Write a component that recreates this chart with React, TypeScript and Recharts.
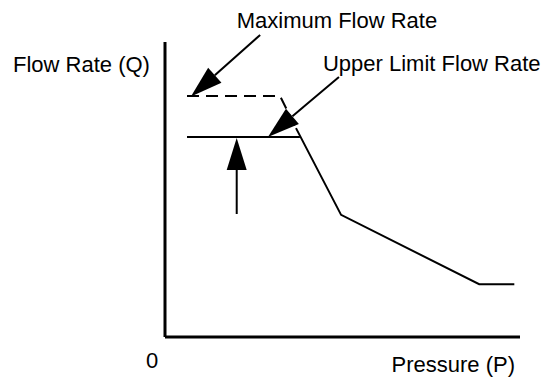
import {
  Label,
  Line,
  LineChart,
  ReferenceDot,
  ReferenceLine,
  XAxis,
  YAxis,
} from 'recharts'

// pressure (P) on x, flow rate (Q) on y, both on a 0..100 scale
const maxFlowRate = [
  { p: 6.2, q: 81.7 },
  { p: 32.4, q: 81.7 },
  { p: 36.9, q: 70.8 },
]

const upperLimitFlowRate = [
  { p: 6.2, q: 67.8 },
  { p: 38.0, q: 67.8 },
]

const flowCurve = [
  { p: 36.9, q: 70.8 },
  { p: 49.6, q: 41.4 },
  { p: 88.5, q: 17.9 },
  { p: 98.4, q: 17.9 },
]

// arrows: [tail, tip]
const arrows = [
  [{ x: 26.8, y: 102.4 }, { x: 7.3, y: 81.5 }],
  [{ x: 49.0, y: 88.1 }, { x: 29.0, y: 67.8 }],
  [{ x: 20.2, y: 41.7 }, { x: 20.2, y: 67.5 }],
]

const annotations = [
  { p: 20.2, q: 104.7, text: 'Maximum Flow Rate' },
  { p: 44.5, q: 90.2, text: 'Upper Limit Flow Rate' },
]

const xTicks = [0]

const FONT = '"Liberation Sans", Arial, sans-serif'
const INK = '#000'

function ArrowShape(props: any) {
  const { x1, y1, x2, y2 } = props
  const dx = x2 - x1
  const dy = y2 - y1
  const len = Math.hypot(dx, dy) || 1
  const ux = dx / len
  const uy = dy / len
  const head = 32
  const half = 10
  const bx = x2 - ux * head
  const by = y2 - uy * head
  const pts = [
    `${x2},${y2}`,
    `${bx - uy * half},${by + ux * half}`,
    `${bx + uy * half},${by - ux * half}`,
  ].join(' ')
  return (
    <g>
      <line x1={x1} y1={y1} x2={bx} y2={by} stroke={INK} strokeWidth={2} />
      <polygon points={pts} fill={INK} />
    </g>
  )
}

function App() {
  return (
    <div
      style={{
        position: 'absolute',
        left: 0,
        top: 0,
        width: 556,
        height: 378,
        background: '#fff',
      }}
    >
      <LineChart
        width={556}
        height={378}
        margin={{ top: 42, right: 36, bottom: 40, left: 164 }}
      >
        <XAxis
          type="number"
          dataKey="p"
          domain={[0, 100]}
          ticks={xTicks}
          height={1}
          tickSize={0}
          tickMargin={0}
          tickLine={false}
          axisLine={{ stroke: INK, strokeWidth: 3 }}
          tick={({ x, y, payload }: any) => (
            <text
              x={x - 13}
              y={y + 31}
              textAnchor="middle"
              fontFamily={FONT}
              fontSize={22}
              fill={INK}
            >
              {payload.value}
            </text>
          )}
        >
          <Label
            content={({ viewBox }: any) => (
              <text
                x={viewBox.x + viewBox.width - 5}
                y={viewBox.y + 35}
                textAnchor="end"
                fontFamily={FONT}
                fontSize={22}
                fill={INK}
              >
                Pressure (P)
              </text>
            )}
          />
        </XAxis>
        <YAxis
          type="number"
          dataKey="q"
          domain={[0, 100]}
          width={1}
          tick={false}
          tickLine={false}
          axisLine={{ stroke: INK, strokeWidth: 3 }}
        >
          <Label
            content={({ viewBox }: any) => (
              <text
                x={viewBox.x + viewBox.width - 152}
                y={viewBox.y + 30}
                textAnchor="start"
                fontFamily={FONT}
                fontSize={22}
                fill={INK}
              >
                Flow Rate (Q)
              </text>
            )}
          />
        </YAxis>

        <Line
          data={maxFlowRate}
          dataKey="q"
          stroke={INK}
          strokeWidth={2}
          strokeDasharray="12 7"
          dot={false}
          isAnimationActive={false}
        />
        <Line
          data={upperLimitFlowRate}
          dataKey="q"
          stroke={INK}
          strokeWidth={2}
          dot={false}
          isAnimationActive={false}
        />
        <Line
          data={flowCurve}
          dataKey="q"
          stroke={INK}
          strokeWidth={2}
          dot={false}
          isAnimationActive={false}
        />

        {arrows.map((seg, i) => (
          <ReferenceLine
            key={`arrow-${i}`}
            segment={seg}
            ifOverflow="visible"
            shape={ArrowShape}
          />
        ))}

        {annotations.map((a) => (
          <ReferenceDot
            key={a.text}
            x={a.p}
            y={a.q}
            r={0}
            ifOverflow="visible"
            shape={(props: any) => (
              <text
                x={props.cx}
                y={props.cy}
                textAnchor="start"
                fontFamily={FONT}
                fontSize={22}
                fill={INK}
              >
                {a.text}
              </text>
            )}
          />
        ))}
      </LineChart>
    </div>
  )
}

export default App
